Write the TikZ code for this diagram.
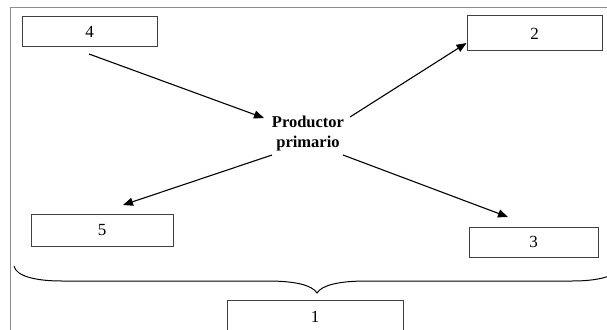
\documentclass[tikz,border=0pt]{standalone}
\usepackage{fontspec}
\setmainfont{Liberation Serif}
\usetikzlibrary{arrows.meta}
\begin{document}
\begin{tikzpicture}[x=1pt,y=-1pt,
  numbox/.style={draw=black!75,line width=1pt,fill=white,inner sep=0pt,font=\fontsize{17}{20}\selectfont},
  flow/.style={draw=black,line width=1.1pt,-{Triangle[length=10pt,width=8pt]}},
  framel/.style={draw=black!45,line width=0.9pt},
  bracel/.style={draw=black,line width=1pt}]
\useasboundingbox (0,0) rectangle (607,329);
\begin{scope}
\clip (0,0) rectangle (607,329);
\draw[framel] (10,340) -- (10,7) -- (620,7);
% boxes
\node[numbox,minimum width=135pt,minimum height=30pt] (b4) at (89.5,32) {4};
\node[numbox,minimum width=135pt,minimum height=35pt] (b2) at (534.5,33.5) {2};
\node[numbox,minimum width=142pt,minimum height=32pt] (b5) at (102,230) {5};
\node[numbox,minimum width=129pt,minimum height=30pt] (b3) at (533.5,242) {3};
\node[numbox,minimum width=176pt,minimum height=34pt] (b1) at (315,317) {1};
% center text
\node[font=\bfseries\fontsize{16.5}{20}\selectfont,align=center,inner sep=0pt] (p) at (308,134) {Productor\\primario};
% connector ends
\coordinate (s4) at (89,54);
\coordinate (e4) at (264,118);
\coordinate (s2) at (350,117);
\coordinate (s5) at (272,155);
\coordinate (e5) at (123,205);
\coordinate (s3) at (343,155);
\coordinate (e3) at (508,217);
\draw[flow] (s4) -- (e4);
\draw[flow] (s2) -- (b2.west |- 0,43);
\draw[flow] (s5) -- (e5);
\draw[flow] (s3) -- (e3);
% brace
\coordinate (tip) at (317,293);
\draw[bracel] (14,266) .. controls (16,276) and (35,281) .. (62,281) -- (267,281)
  .. controls (295,281) and (312,285) .. (tip)
  .. controls (322,285) and (339,281) .. (367,281) -- (572,281)
  .. controls (599,281) and (618,276) .. (620,266);
\end{scope}
\end{tikzpicture}
\end{document}
